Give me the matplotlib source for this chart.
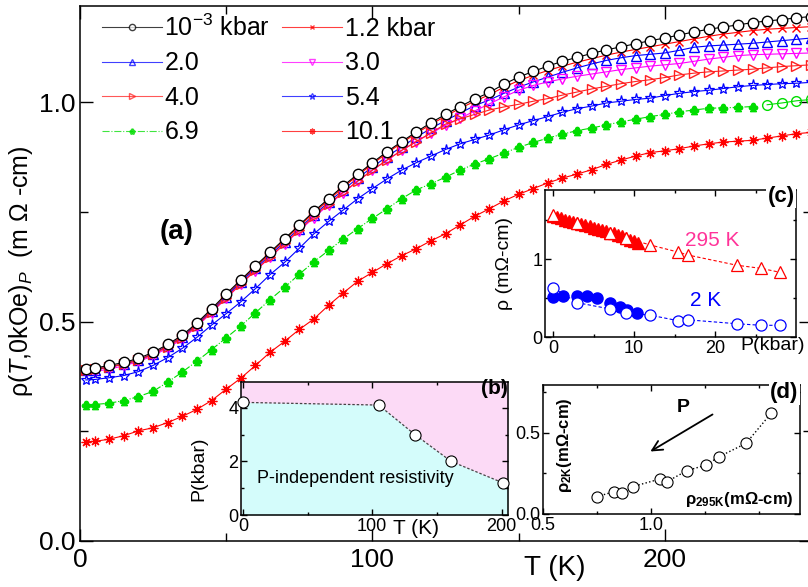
import numpy as np
import matplotlib
matplotlib.use("Agg")
import matplotlib.pyplot as plt
from matplotlib.ticker import MultipleLocator, FixedLocator, FormatStrFormatter

plt.rcParams['font.family'] = ['Liberation Sans', 'DejaVu Sans']
plt.rcParams['mathtext.fontset'] = 'custom'
plt.rcParams['mathtext.rm'] = 'Liberation Sans'
plt.rcParams['mathtext.it'] = 'Liberation Sans:italic'
plt.rcParams['mathtext.bf'] = 'Liberation Sans:bold'

# main panel (a): rho(T) at several pressures
temps = [2] + list(range(5, 251, 5))
rho_amb = [0.393, 0.394, 0.400, 0.407, 0.416, 0.430, 0.448, 0.469, 0.497, 0.529,
           0.563, 0.595, 0.627, 0.658, 0.689, 0.720, 0.751, 0.780, 0.809, 0.836,
           0.862, 0.887, 0.910, 0.932, 0.953, 0.972, 0.990, 1.007, 1.022, 1.041,
           1.057, 1.070, 1.082, 1.093, 1.102, 1.111, 1.119, 1.126, 1.133, 1.140,
           1.146, 1.153, 1.160, 1.166, 1.171, 1.176, 1.181, 1.185, 1.188, 1.192, 1.195]
rho_1p2 = [0.390, 0.391, 0.397, 0.404, 0.413, 0.427, 0.445, 0.466, 0.494, 0.526,
           0.560, 0.592, 0.624, 0.655, 0.686, 0.717, 0.748, 0.777, 0.806, 0.833,
           0.859, 0.884, 0.907, 0.929, 0.949, 0.968, 0.986, 1.002, 1.017, 1.034,
           1.049, 1.061, 1.072, 1.082, 1.091, 1.099, 1.107, 1.114, 1.120, 1.126,
           1.132, 1.138, 1.144, 1.150, 1.155, 1.159, 1.163, 1.166, 1.168, 1.170, 1.172]
rho_2p0 = [0.389, 0.390, 0.396, 0.403, 0.412, 0.426, 0.444, 0.464, 0.493, 0.524,
           0.557, 0.590, 0.621, 0.651, 0.682, 0.712, 0.743, 0.772, 0.800, 0.827,
           0.852, 0.876, 0.898, 0.920, 0.940, 0.958, 0.975, 0.992, 1.005, 1.020,
           1.034, 1.046, 1.057, 1.068, 1.078, 1.087, 1.095, 1.101, 1.106, 1.109,
           1.112, 1.118, 1.125, 1.128, 1.130, 1.132, 1.134, 1.137, 1.140, 1.143, 1.146]
rho_3p0 = [0.385, 0.386, 0.392, 0.399, 0.409, 0.422, 0.440, 0.460, 0.489, 0.520,
           0.553, 0.585, 0.616, 0.646, 0.677, 0.707, 0.737, 0.766, 0.793, 0.820,
           0.845, 0.868, 0.890, 0.910, 0.929, 0.947, 0.963, 0.980, 0.996, 1.012,
           1.027, 1.038, 1.046, 1.053, 1.059, 1.064, 1.069, 1.074, 1.078, 1.082,
           1.085, 1.088, 1.093, 1.098, 1.102, 1.106, 1.108, 1.109, 1.110, 1.111, 1.112]
rho_4p0 = [0.390, 0.391, 0.396, 0.403, 0.412, 0.425, 0.443, 0.463, 0.491, 0.522,
           0.554, 0.586, 0.617, 0.647, 0.678, 0.709, 0.740, 0.768, 0.795, 0.820,
           0.845, 0.868, 0.890, 0.910, 0.930, 0.950, 0.962, 0.972, 0.982, 0.989,
           0.995, 1.002, 1.008, 1.016, 1.023, 1.030, 1.036, 1.042, 1.047, 1.051,
           1.056, 1.062, 1.066, 1.069, 1.071, 1.073, 1.075, 1.078, 1.081, 1.083, 1.085]
rho_5p4 = [0.367, 0.368, 0.372, 0.377, 0.386, 0.400, 0.418, 0.439, 0.464, 0.492,
           0.518, 0.545, 0.575, 0.607, 0.635, 0.667, 0.700, 0.728, 0.754, 0.780,
           0.803, 0.825, 0.845, 0.862, 0.877, 0.892, 0.905, 0.915, 0.925, 0.937,
           0.948, 0.958, 0.967, 0.977, 0.985, 0.991, 0.998, 1.002, 1.006, 1.009,
           1.015, 1.020, 1.024, 1.027, 1.031, 1.035, 1.038, 1.040, 1.042, 1.043, 1.045]
rho_6p9 = [0.310, 0.311, 0.314, 0.320, 0.329, 0.341, 0.362, 0.385, 0.410, 0.436,
           0.463, 0.490, 0.520, 0.550, 0.578, 0.608, 0.636, 0.662, 0.688, 0.712,
           0.735, 0.757, 0.780, 0.800, 0.814, 0.829, 0.845, 0.859, 0.871, 0.884,
           0.897, 0.908, 0.918, 0.927, 0.935, 0.941, 0.948, 0.955, 0.961, 0.967,
           0.972, 0.978, 0.982, 0.986, 0.987, 0.988, 0.990, 0.994, 0.998, 1.003, 1.006]
rho_10p1 = [0.226, 0.227, 0.232, 0.240, 0.251, 0.258, 0.270, 0.284, 0.300, 0.320,
            0.346, 0.371, 0.400, 0.430, 0.455, 0.482, 0.506, 0.537, 0.565, 0.592,
            0.612, 0.632, 0.650, 0.666, 0.684, 0.700, 0.720, 0.740, 0.757, 0.775,
            0.790, 0.803, 0.816, 0.827, 0.836, 0.846, 0.858, 0.868, 0.877, 0.885,
            0.889, 0.894, 0.900, 0.905, 0.909, 0.911, 0.913, 0.918, 0.923, 0.928, 0.931]

# inset (b): crossover line
b_T = [0, 105, 133, 161, 201]
b_P = [4.2, 4.1, 3.0, 2.0, 1.2]

# inset (c): rho vs P at 295 K and 2 K
c_P_open = [0, 3.0, 7.0, 9.0, 12.0, 15.4, 16.7, 22.7, 25.7, 28.0]
c_295_open = [1.56, 1.46, 1.33, 1.27, 1.18, 1.09, 1.05, 0.92, 0.88, 0.83]
c_2_open = [0.63, 0.44, 0.36, 0.31, 0.28, 0.21, 0.22, 0.17, 0.15, 0.15]
c_P_fill295 = [0, 0.5, 1, 1.5, 2, 2.5, 3, 3.5, 4, 4.5, 5, 5.5, 6, 6.5, 7, 7.5,
               8, 8.5, 9, 9.5, 10, 10.5]
c_295_fill = [1.55, 1.54, 1.52, 1.50, 1.49, 1.48, 1.46, 1.45, 1.43, 1.42, 1.40,
              1.38, 1.37, 1.36, 1.34, 1.33, 1.31, 1.30, 1.27, 1.25, 1.23, 1.21]
c_P_fill2 = [0, 1.2, 2.9, 4.2, 5.4, 7.0, 8.3, 9.1, 10.4]
c_2_fill = [0.51, 0.53, 0.53, 0.52, 0.50, 0.43, 0.39, 0.34, 0.31]

# inset (d): rho_2K vs rho_295K
d_rho295 = [0.749, 0.830, 0.864, 0.915, 1.042, 1.075, 1.165, 1.255, 1.316, 1.440, 1.556]
d_rho2 = [0.107, 0.138, 0.132, 0.169, 0.216, 0.200, 0.267, 0.302, 0.354, 0.436, 0.621]

W, H = 808, 587
fig = plt.figure(figsize=(W / 100, H / 100), dpi=100)


def box(l, t, r, b):
    return [l / W, 1 - b / H, (r - l) / W, (b - t) / H]


def style(ax, size, major, minor):
    ax.tick_params(which='both', direction='in', top=True, right=True, labelsize=size)
    ax.tick_params(which='major', length=major, width=1)
    ax.tick_params(which='minor', length=minor, width=1)
    for s in ax.spines.values():
        s.set_linewidth(1.1)


ax = fig.add_axes(box(80, 6, 811, 541))
ax.set_xlim(0, 250)
ax.set_ylim(0, 1.219)
ax.xaxis.set_major_locator(MultipleLocator(100))
ax.xaxis.set_minor_locator(MultipleLocator(50))
ax.yaxis.set_major_locator(MultipleLocator(0.5))
ax.yaxis.set_minor_locator(MultipleLocator(0.25))
ax.yaxis.set_major_formatter(FormatStrFormatter('%.1f'))
style(ax, 19, 9, 5.5)
ax.tick_params(axis='x', pad=5)

T = np.array(temps)
series = [
    (rho_1p2, '#ff0000', dict(marker='x', ms=6, mew=1.0), '1.2 kbar'),
    (rho_2p0, '#0000ff', dict(marker='^', ms=7, mfc='none', mew=1.0), '2.0'),
    (rho_3p0, '#ff00ff', dict(marker='v', ms=7, mfc='none', mew=1.0), '3.0'),
    (rho_4p0, '#ff2020', dict(marker='>', ms=7, mfc='none', mew=1.0), '4.0'),
    (rho_5p4, '#0000ff', dict(marker='*', ms=8, mfc='none', mew=0.9), '5.4'),
    (rho_10p1, '#ff0000', dict(marker=(8, 2, 0), ms=7, mew=0.9), '10.1'),
]
handles = {}
for vals, col, mk, lab in series:
    h, = ax.plot(T, vals, color=col, lw=0.8, mec=col, label=lab, **mk)
    handles[lab] = h

g = np.array(rho_6p9)
cut = T < 233
h69, = ax.plot(T[cut], g[cut], color='#00dd00', lw=0.8, ls='-.', marker=r'$\clubsuit$',
               ms=6, mec='#00dd00', mfc='#00dd00', label='6.9')
ax.plot(T[~cut], g[~cut], color='#00dd00', lw=0.8, marker='o', ms=7, mfc='none', mec='#00dd00')
handles['6.9'] = h69

h0, = ax.plot(T, rho_amb, color='k', lw=0.8, marker='o', ms=7.5, mfc='white', mec='k',
              mew=1.0, label=r'10$^{-3}$ kbar', zorder=5)

# column-wise fill so rows read: 10^-3 / 1.2, 2.0 / 3.0, 4.0 / 5.4, 6.9 / 10.1
order = [h0, handles['2.0'], handles['4.0'], h69,
         handles['1.2 kbar'], handles['3.0'], handles['5.4'], handles['10.1']]
leg = ax.legend(order, [h.get_label() for h in order], ncol=2, loc='upper left',
                bbox_to_anchor=(84 / W, 1 + 3 / H), bbox_transform=fig.transFigure,
                frameon=False, fontsize=18, handlelength=2.4, handletextpad=0.12,
                columnspacing=0.45, labelspacing=0.42, borderpad=0.2, markerscale=0.6)
for line in leg.get_lines():
    line.set_alpha(0.75)

ax.set_xlabel('T (K)', fontsize=20)
ax.xaxis.set_label_coords(0.65, -0.027)
ax.set_ylabel(r'ρ($\mathit{T}$,0kOe)$_{\mathit{P}}$  (m Ω -cm)', fontsize=18)
ax.yaxis.set_label_coords(-0.062, 0.505)
ax.text(0.109, 0.565, '(a)', transform=ax.transAxes, fontsize=20, fontweight='bold')

# inset (b)
axb = fig.add_axes(box(241, 382, 508, 515))
axb.set_xlim(-1.5, 205)
axb.set_ylim(0, 4.96)
axb.set_facecolor('#fcdaf6')
xs = [axb.get_xlim()[0]] + b_T + [axb.get_xlim()[1]]
ys = [b_P[0]] + b_P + [b_P[-1]]
axb.fill_between(xs, 0, ys, color='#d4fcfb', lw=0)
axb.plot(b_T, b_P, ls=(0, (2, 1.5)), color='#444444', lw=0.9, marker='o', ms=8,
         mfc='white', mec='k', mew=0.8, clip_on=False, zorder=4)
axb.xaxis.set_major_locator(MultipleLocator(100))
axb.xaxis.set_minor_locator(MultipleLocator(50))
axb.yaxis.set_major_locator(MultipleLocator(2))
axb.yaxis.set_minor_locator(MultipleLocator(1))
style(axb, 13, 4.5, 2.5)
axb.tick_params(pad=2)
axb.set_ylabel('P(kbar)', fontsize=14)
axb.yaxis.set_label_coords(-0.127, 0.35)
axb.text(0.655, -0.1, 'T (K)', transform=axb.transAxes, fontsize=15, ha='center', va='center')
axb.text(0.06, 0.24, 'P-independent resistivity', transform=axb.transAxes, fontsize=13)
axb.text(1.0, 0.95, '(b)', transform=axb.transAxes, fontsize=15, fontweight='bold',
         ha='right', va='center')

# inset (c)
axc = fig.add_axes(box(545, 190, 796, 337))
axc.set_xlim(-1, 30)
axc.set_ylim(0, 1.885)
axc.plot(c_P_open, c_295_open, ls=(0, (3, 2)), color='#ff0000', lw=0.8)
axc.plot(c_P_open, c_2_open, ls=(0, (3, 2)), color='#0000ff', lw=0.8)
axc.plot(c_P_fill295, c_295_fill, ls='none', marker='^', ms=8, color='#ff0000')
axc.plot(c_P_fill2, c_2_fill, ls='none', marker='o', ms=8, color='#0000ff')
axc.plot(c_P_open, c_295_open, ls='none', marker='^', ms=9, mfc='white', mec='#ff0000', mew=0.9)
axc.plot(c_P_open, c_2_open, ls='none', marker='o', ms=8, mfc='white', mec='#0000ff', mew=0.9)
axc.xaxis.set_major_locator(FixedLocator([0, 10, 20]))
axc.xaxis.set_minor_locator(FixedLocator([5, 15, 25]))
axc.yaxis.set_major_locator(MultipleLocator(1))
axc.yaxis.set_minor_locator(MultipleLocator(0.5))
style(axc, 13, 4.5, 2.5)
axc.tick_params(pad=2)
axc.set_ylabel('ρ (mΩ-cm)', fontsize=14, labelpad=14)
axc.text(0.905, -0.06, 'P(kbar)', transform=axc.transAxes, fontsize=14, ha='center', va='center')
axc.text(19.7, 1.24, '295 K', color='#ff3399', fontsize=15, ha='center', va='center')
axc.text(18.8, 0.47, '2 K', color='#0000ff', fontsize=15, ha='center', va='center')
axc.text(0.995, 0.955, '(c)', transform=axc.transAxes, fontsize=16, fontweight='bold',
         ha='right', va='center', bbox=dict(facecolor='white', edgecolor='none', pad=1))

# inset (d)
axd = fig.add_axes(box(543, 385, 800, 514))
axd.set_xlim(0.5, 1.69)
axd.set_ylim(0, 0.796)
order_d = np.argsort(d_rho295)
axd.plot(np.array(d_rho295)[order_d], np.array(d_rho2)[order_d], ls=':', color='k', lw=1.0,
         marker='o', ms=8, mfc='white', mec='k', mew=0.8)
axd.xaxis.set_major_locator(FixedLocator([0.5, 1.0]))
axd.xaxis.set_minor_locator(FixedLocator([0.75, 1.25, 1.5]))
axd.yaxis.set_major_locator(MultipleLocator(0.5))
axd.yaxis.set_minor_locator(MultipleLocator(0.25))
axd.yaxis.set_major_formatter(FormatStrFormatter('%.1f'))
axd.xaxis.set_major_formatter(FormatStrFormatter('%.1f'))
style(axd, 13, 4.5, 2.5)
axd.tick_params(pad=2)
axd.annotate('', xy=(0.986, 0.377), xytext=(1.296, 0.623),
             arrowprops=dict(arrowstyle='->', lw=1.3, color='k', mutation_scale=18))
axd.text(1.148, 0.66, 'P', fontsize=14, fontweight='bold', ha='center', va='center')
axd.text(0.085, 0.53, r'ρ$_{\mathbf{2K}}$(mΩ-cm)', transform=axd.transAxes, fontsize=12,
         fontweight='bold', rotation=90, ha='center', va='center')
axd.text(0.975, 0.11, r'ρ$_{\mathbf{295K}}$(mΩ-cm)', transform=axd.transAxes, fontsize=12,
         fontweight='bold', ha='right', va='center')
axd.text(0.995, 0.94, '(d)', transform=axd.transAxes, fontsize=16, fontweight='bold',
         ha='right', va='center', bbox=dict(facecolor='white', edgecolor='none', pad=1))

fig.savefig('out.png', dpi=100)
